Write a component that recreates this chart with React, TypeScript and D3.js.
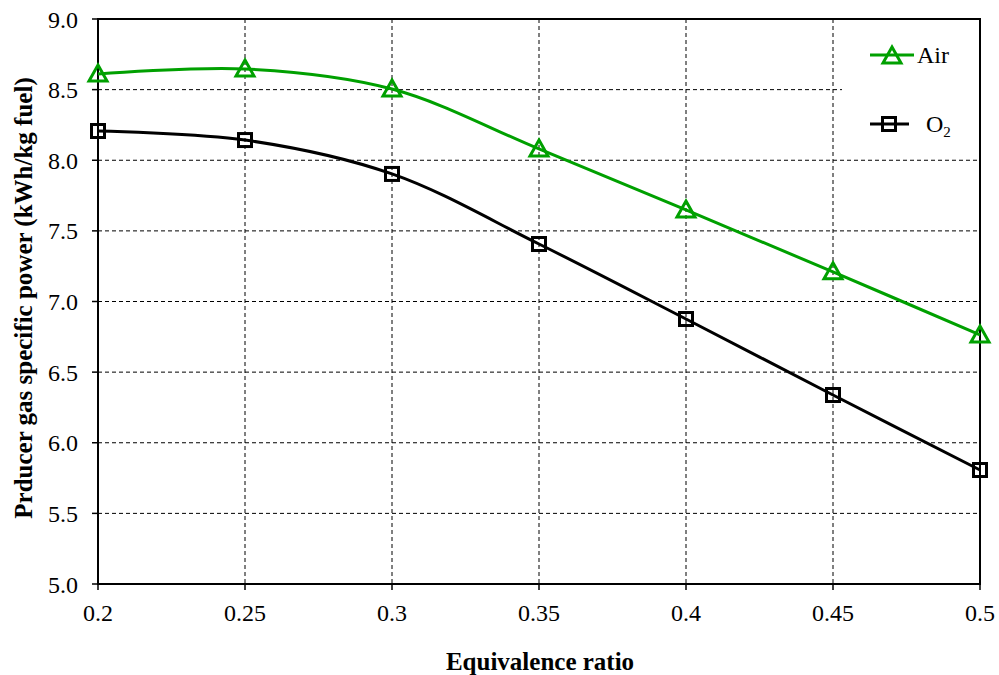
import React from "react";
import * as d3 from "d3";

const xValues = [0.2, 0.25, 0.3, 0.35, 0.4, 0.45, 0.5];
const airValues = [8.61, 8.646, 8.504, 8.08, 7.648, 7.21, 6.763];
const o2Values = [8.207, 8.143, 7.903, 7.407, 6.876, 6.338, 5.807];
const xTicks = [0.2, 0.25, 0.3, 0.35, 0.4, 0.45, 0.5];
const yTicks = [5.0, 5.5, 6.0, 6.5, 7.0, 7.5, 8.0, 8.5, 9.0];

const W = 999, H = 675;
const L = 98, R = 980, T = 19, B = 584;
const GREEN = "#00A000";
const FONT = "'Liberation Serif', 'Times New Roman', serif";

export default function App() {
  const x = d3.scaleLinear().domain([0.2, 0.5]).range([L, R]);
  const y = d3.scaleLinear().domain([5, 9]).range([B, T]);
  const line = d3
    .line<number>()
    .x((_, i) => x(xValues[i]))
    .y((d) => y(d))
    .curve(d3.curveCatmullRom.alpha(0.5));

  const tri = (cx: number, cy: number, key: string) => (
    <path
      key={key}
      d={`M${cx},${cy - 9} L${cx + 9},${cy + 7} L${cx - 9},${cy + 7} Z`}
      fill="none"
      stroke={GREEN}
      strokeWidth={3}
      strokeLinejoin="miter"
    />
  );
  const sq = (cx: number, cy: number, key: string) => (
    <rect key={key} x={cx - 6.5} y={cy - 6.5} width={13} height={13} fill="none" stroke="#000" strokeWidth={3} />
  );

  return (
    <svg width={W} height={H} style={{ position: "absolute", left: 0, top: 0, background: "#fff" }}>
      <rect x={0} y={0} width={W} height={H} fill="#fff" />
      {/* grid */}
      {yTicks.slice(1, -1).map((v) => (
        <line key={"gy" + v} x1={L} x2={R} y1={y(v)} y2={y(v)} stroke="#000" strokeWidth={1} strokeDasharray="4,3" />
      ))}
      {xTicks.slice(1, -1).map((v) => (
        <line key={"gx" + v} x1={x(v)} x2={x(v)} y1={T} y2={B} stroke="#000" strokeWidth={1} strokeDasharray="4,3" />
      ))}
      {/* legend background */}
      <rect x={842} y={T + 1} width={R - 843} height={132} fill="#fff" />
      {/* frame */}
      <rect x={L} y={T} width={R - L} height={B - T} fill="none" stroke="#000" strokeWidth={2} />
      {/* ticks */}
      {yTicks.map((v) => (
        <g key={"ty" + v}>
          <line x1={L - 6} x2={L} y1={y(v)} y2={y(v)} stroke="#000" strokeWidth={1.5} />
          <text x={78} y={y(v) + 8.5} textAnchor="end" fontFamily={FONT} fontSize={24}>
            {v.toFixed(1)}
          </text>
        </g>
      ))}
      {xTicks.map((v) => (
        <g key={"tx" + v}>
          <line x1={x(v)} x2={x(v)} y1={B} y2={B + 6} stroke="#000" strokeWidth={1.5} />
          <text x={x(v)} y={621} textAnchor="middle" fontFamily={FONT} fontSize={24}>
            {String(v)}
          </text>
        </g>
      ))}
      {/* series */}
      <path d={line(airValues) || ""} fill="none" stroke={GREEN} strokeWidth={3} />
      <path d={line(o2Values) || ""} fill="none" stroke="#000" strokeWidth={3} />
      {airValues.map((v, i) => tri(x(xValues[i]), y(v), "a" + i))}
      {o2Values.map((v, i) => sq(x(xValues[i]), y(v), "o" + i))}
      {/* legend */}
      <line x1={870} x2={914} y1={55} y2={55} stroke={GREEN} strokeWidth={3} />
      {tri(892, 56, "la")}
      <text x={917} y={63} fontFamily={FONT} fontSize={24}>Air</text>
      <line x1={870} x2={909} y1={124} y2={124} stroke="#000" strokeWidth={3} />
      {sq(889, 124, "lo")}
      <text x={926} y={132} fontFamily={FONT} fontSize={24}>
        O<tspan fontSize={15} dy={5}>2</tspan>
      </text>
      {/* axis titles */}
      <text x={(L + R) / 2 + 1} y={670} textAnchor="middle" fontFamily={FONT} fontSize={25} fontWeight="bold">
        Equivalence ratio
      </text>
      <text
        transform={`translate(32, 298) rotate(-90)`}
        textAnchor="middle"
        fontFamily={FONT}
        fontSize={25}
        fontWeight="bold"
      >
        Prducer gas specific power (kWh/kg fuel)
      </text>
    </svg>
  );
}
